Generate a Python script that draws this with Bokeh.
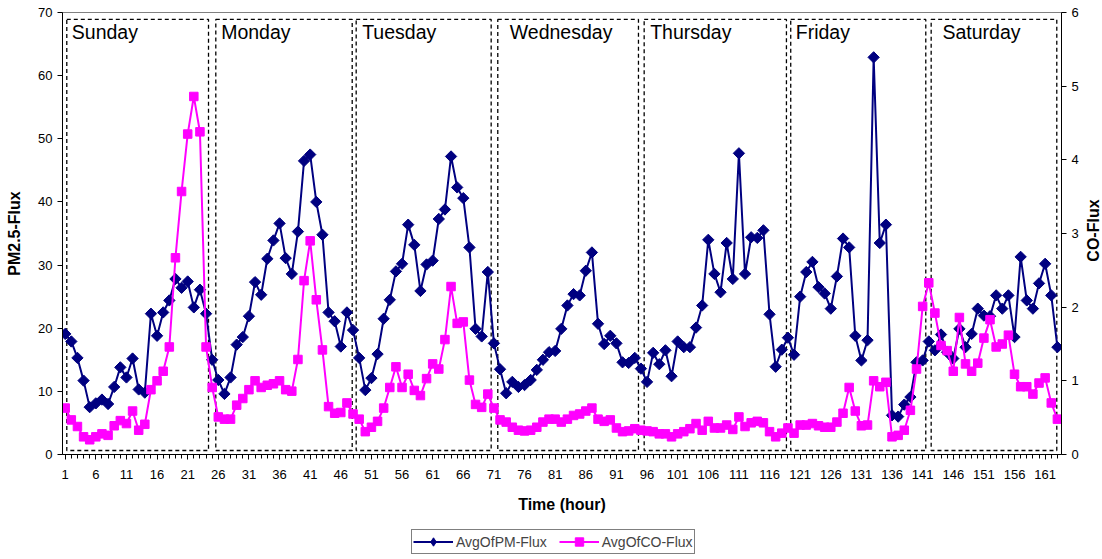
import numpy as np
from bokeh.plotting import figure
from bokeh.layouts import column, row
from bokeh.models import Range1d, LinearAxis, FixedTicker, Legend, LegendItem
from bokeh.core.properties import value
from bokeh.embed import file_html
from bokeh.resources import INLINE

# ---------------- data ----------------
hours = list(range(1, 164))

pm_flux = [
    # h1-h27
    19.1, 17.9, 15.3, 11.7, 7.5, 8.1, 8.7, 8.0, 10.7, 13.8, 12.2, 15.2, 10.3, 9.8,
    22.3, 18.8, 22.5, 24.4, 27.8, 26.4, 27.4, 23.3, 26.1, 22.3, 15.0, 11.8, 9.6,
    # h28-h54
    12.2, 17.4, 18.6, 21.9, 27.3, 25.3, 31.0, 33.9, 36.6, 31.1, 28.6, 35.3, 46.5,
    47.5, 40.0, 34.8, 22.5, 21.1, 17.1, 22.5, 19.7, 15.3, 10.2, 12.1, 15.9, 21.5, 24.5,
    # h55-h82
    29.0, 30.2, 36.4, 33.2, 25.9, 30.1, 30.7, 37.3, 38.8, 47.2, 42.3, 40.6, 32.8,
    19.9, 18.7, 28.9, 17.6, 13.5, 9.7, 11.5, 10.7, 11.0, 11.8, 13.4, 15.0, 16.2, 16.4, 19.9,
    # h83-h109
    23.6, 25.4, 25.2, 29.1, 32.0, 20.7, 17.5, 18.8, 17.6, 14.6, 14.5, 15.3, 13.6,
    11.5, 16.1, 14.3, 16.5, 12.4, 17.9, 17.0, 17.0, 20.1, 23.6, 34.0, 28.6, 25.7, 33.5,
    # h110-h137
    27.8, 47.7, 28.6, 34.4, 34.3, 35.5, 22.2, 13.9, 16.6, 18.5, 15.8, 25.0, 28.9,
    30.5, 26.5, 25.5, 23.1, 28.2, 34.2, 32.8, 18.8, 14.9, 18.1, 62.9, 33.5, 36.4, 6.2, 6.0,
    # h138-h163
    7.9, 9.1, 14.6, 14.9, 17.9, 16.5, 19.0, 16.2, 15.2, 19.9, 17.0, 19.1, 23.1,
    22.0, 21.9, 25.2, 23.1, 25.2, 18.6, 31.3, 24.4, 23.1, 27.1, 30.2, 25.2, 17.0,
]

co_flux = [
    # h1-h27
    0.63, 0.47, 0.38, 0.24, 0.20, 0.24, 0.28, 0.26, 0.39, 0.46, 0.42, 0.59, 0.33, 0.41,
    0.88, 1.00, 1.13, 1.46, 2.67, 3.57, 4.35, 4.86, 4.38, 1.46, 0.91, 0.51, 0.48,
    # h28-h54
    0.48, 0.67, 0.76, 0.88, 1.00, 0.91, 0.94, 0.96, 1.00, 0.88, 0.86, 1.29, 2.36,
    2.90, 2.10, 1.42, 0.65, 0.56, 0.57, 0.70, 0.55, 0.48, 0.31, 0.37, 0.45, 0.63, 0.91,
    # h55-h82
    1.19, 0.91, 1.09, 0.87, 0.80, 1.03, 1.23, 1.16, 1.56, 2.28, 1.78, 1.80, 1.01,
    0.68, 0.64, 0.82, 0.63, 0.47, 0.44, 0.37, 0.33, 0.32, 0.33, 0.37, 0.44, 0.48, 0.48, 0.44,
    # h83-h109
    0.48, 0.53, 0.55, 0.59, 0.63, 0.48, 0.45, 0.47, 0.36, 0.31, 0.32, 0.35, 0.33,
    0.32, 0.31, 0.28, 0.28, 0.24, 0.28, 0.31, 0.35, 0.42, 0.33, 0.45, 0.36, 0.36, 0.40,
    # h110-h137
    0.34, 0.51, 0.38, 0.43, 0.45, 0.43, 0.31, 0.24, 0.29, 0.36, 0.29, 0.40, 0.40,
    0.42, 0.39, 0.37, 0.37, 0.44, 0.56, 0.91, 0.59, 0.39, 0.40, 1.00, 0.92, 0.98, 0.24, 0.26,
    # h138-h163
    0.33, 0.60, 1.16, 2.01, 2.33, 1.92, 1.48, 1.41, 1.13, 1.86, 1.23, 1.13, 1.24,
    1.58, 1.83, 1.46, 1.50, 1.62, 1.09, 0.92, 0.92, 0.82, 0.97, 1.04, 0.70, 0.48,
]

days = ["Sunday", "Monday", "Tuesday", "Wednesday", "Thursday", "Friday", "Saturday"]
day_start = [1.26, 25.59, 48.51, 71.63, 95.53, 119.46, 142.39]
day_end = [24.40, 47.86, 70.55, 94.60, 118.76, 141.51, 162.90]
day_label_x = [2.08, 26.47, 49.49, 73.59, 96.51, 120.28, 144.24]

x_ticks = list(range(1, 164, 5))
pm_ticks = list(range(0, 71, 10))
co_ticks = list(range(0, 7))

series_names = ["AvgOfPM-Flux", "AvgOfCO-Flux"]
co_title = "CO-Flux"

FONT = "Liberation Sans"
PM_COLOR = "#000080"
CO_COLOR = "#FF00FF"

MAIN_W, STRIP_W, TOTAL_W = 1082, 20, 1102
MAIN_H, LEG_H = 524, 35
B_LEFT, B_TOP, B_BOTTOM = 62, 12, 70
B_RIGHT = 21


def bare(fig):
    fig.xaxis.visible = False
    fig.yaxis.visible = False
    fig.grid.visible = False
    fig.outline_line_color = None
    fig.background_fill_color = "white"
    fig.border_fill_color = "white"


# ---------------- main figure ----------------
p = figure(
    width=MAIN_W, height=MAIN_H,
    x_range=Range1d(0.56, 163.67), y_range=Range1d(0, 70),
    output_backend="svg", toolbar_location=None,
    min_border_left=B_LEFT, min_border_right=B_RIGHT,
    min_border_top=B_TOP, min_border_bottom=B_BOTTOM,
)
p.extra_y_ranges = {"co": Range1d(0, 6)}
p.xgrid.visible = False
p.ygrid.visible = False
p.outline_line_color = "#808080"
p.outline_line_width = 1
p.background_fill_color = "white"
p.border_fill_color = "white"

# day boxes
p.quad(left=day_start, right=day_end, bottom=0.63, top=68.9,
       fill_color=None, line_color="black", line_dash="4 3", line_width=1.3)
p.text(x=day_label_x, y=[66.9] * len(days), text=days,
       text_font=value(FONT), text_font_size="19.5px",
       text_baseline="alphabetic", text_align="left", text_color="black")

# series
PM_STYLE = dict(marker="square", angle=np.pi / 4, size=8, fill_color=PM_COLOR, line_color=PM_COLOR)
CO_STYLE = dict(marker="square", size=8.5, fill_color=CO_COLOR, line_color=CO_COLOR)

p.line(hours, pm_flux, line_color=PM_COLOR, line_width=2)
p.scatter(hours, pm_flux, **PM_STYLE)
p.line(hours, co_flux, y_range_name="co", line_color=CO_COLOR, line_width=2)
p.scatter(hours, co_flux, y_range_name="co", **CO_STYLE)


def style_axis(ax):
    ax.axis_line_color = "black"
    ax.axis_line_width = 1
    ax.major_tick_line_color = "black"
    ax.major_tick_in = 0
    ax.major_tick_out = 5
    ax.major_label_text_font = FONT
    ax.major_label_text_font_size = "13px"
    ax.major_label_text_color = "black"
    ax.axis_label_text_font = FONT
    ax.axis_label_text_font_size = "16px"
    ax.axis_label_text_font_style = "bold"
    ax.axis_label_text_color = "black"


xa = p.xaxis[0]
xa.ticker = FixedTicker(ticks=x_ticks, minor_ticks=hours)
xa.axis_label = "Time (hour)"
style_axis(xa)
xa.minor_tick_in = 0
xa.minor_tick_out = 4
xa.minor_tick_line_color = "black"
xa.major_label_standoff = 10
xa.axis_label_standoff = 14

ya = p.yaxis[0]
ya.ticker = FixedTicker(ticks=pm_ticks)
ya.axis_label = "PM2.5-Flux"
style_axis(ya)
ya.minor_tick_line_color = None
ya.major_label_standoff = 5
ya.axis_label_standoff = 12

yr = LinearAxis(y_range_name="co", ticker=FixedTicker(ticks=co_ticks))
style_axis(yr)
yr.minor_tick_line_color = None
yr.major_label_standoff = 5
p.add_layout(yr, "right")

# ---------------- right strip with the CO axis title (reads bottom-to-top) ----------------
strip = figure(
    width=STRIP_W, height=MAIN_H, x_range=Range1d(0, 1), y_range=Range1d(0, 6),
    output_backend="svg", toolbar_location=None,
    min_border_left=0, min_border_right=0, min_border_top=B_TOP, min_border_bottom=B_BOTTOM,
)
bare(strip)
strip.text(x=[0.55], y=[3.04], text=[co_title], angle=np.pi / 2,
           text_font=value(FONT), text_font_size="16px", text_font_style="bold",
           text_align="center", text_baseline="middle", text_color="black")

# ---------------- legend strip ----------------
lf = figure(
    width=TOTAL_W, height=LEG_H, x_range=Range1d(0, 1), y_range=Range1d(0, 1),
    output_backend="svg", toolbar_location=None,
    min_border_left=B_LEFT, min_border_right=TOTAL_W - MAIN_W + B_RIGHT,
    min_border_top=0, min_border_bottom=0,
)
bare(lf)
nan = [np.nan]
l_pm_line = lf.line(nan, nan, line_color=PM_COLOR, line_width=2)
l_pm_pts = lf.scatter(nan, nan, marker="diamond", fill_color=PM_COLOR, line_color=PM_COLOR)
l_co_line = lf.line(nan, nan, line_color=CO_COLOR, line_width=2)
l_co_pts = lf.scatter(nan, nan, marker="square", fill_color=CO_COLOR, line_color=CO_COLOR)

legend = Legend(
    items=[LegendItem(label=series_names[0], renderers=[l_pm_line, l_pm_pts]),
           LegendItem(label=series_names[1], renderers=[l_co_line, l_co_pts])],
    location=(411 - B_LEFT, 5), orientation="horizontal",
    border_line_color="black", border_line_width=1, background_fill_color="white",
    label_text_font=FONT, label_text_font_size="14px",
    glyph_width=40, glyph_height=21, padding=1, spacing=12, label_standoff=3, margin=0,
)
lf.add_layout(legend)

layout = column(row(p, strip, spacing=0), lf, spacing=0)
open("out.html", "w").write(file_html(layout, INLINE))
